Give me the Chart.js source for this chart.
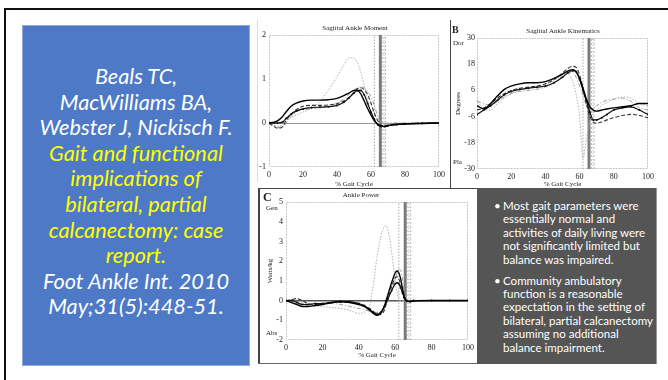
<!DOCTYPE html>
<html><head><meta charset="utf-8">
<script src="https://cdn.jsdelivr.net/npm/chart.js@4.4.1/dist/chart.umd.min.js"></script>
<style>
html,body{margin:0;padding:0;background:#fff;width:668px;height:380px;overflow:hidden;position:relative}
.abs{position:absolute}
.serif{font-family:"Liberation Serif",serif;color:#222;white-space:nowrap}
#topline{left:4px;top:8px;width:664px;height:2px;background:#111}
#leftline{left:4px;top:8px;width:2px;height:372px;background:#111}
#cite{left:22px;top:25px;width:226px;height:339px;background:#4D79C6;border:1px solid #8EA9DB;font-family:Lato,sans-serif;font-style:italic;color:#fff;text-align:center}
#cite .ln{position:absolute;left:0;width:226px;height:26px;line-height:26px;white-space:nowrap}
#cite .y{color:#FFFF00}
#notes{left:477px;top:188px;width:179px;height:176px;background:#555;border-right:1px solid #999;font-family:Lato,sans-serif;color:#fff}
#notes .ln{position:absolute;left:26px;white-space:nowrap;height:14px;line-height:14px}
#notes .bul{position:absolute;left:17px;height:14px;line-height:14px}
canvas{position:absolute}
</style></head>
<body>
<div id="topline" class="abs"></div>
<div id="leftline" class="abs"></div>
<div id="cite" class="abs"></div>

<div class="abs" style="left:257px;top:20px;width:1px;height:162px;background:#ddd"></div>
<div class="abs" style="left:450px;top:20px;width:1px;height:169px;background:#444"></div>
<div class="abs" style="left:258px;top:188px;width:219px;height:1px;background:#444"></div>
<div class="abs" style="left:258px;top:188px;width:2px;height:176px;background:#444"></div>
<div class="abs" style="left:258px;top:363px;width:219px;height:1px;background:#666"></div>

<canvas id="cA" width="190" height="170" style="left:258px;top:20px"></canvas>
<canvas id="cB" width="216" height="170" style="left:450px;top:20px"></canvas>
<canvas id="cC" width="219" height="176" style="left:258px;top:188px"></canvas>

<div class="abs serif" style="left:305px;top:24px;width:100px;text-align:center;font-size:7px">Sagittal Ankle Moment</div>
<div class="abs serif" style="left:503px;top:27px;width:120px;text-align:center;font-size:7px">Sagittal Ankle Kinematics</div>
<div class="abs serif" style="left:311px;top:191px;width:100px;text-align:center;font-size:7px">Ankle Power</div>
<div class="abs serif" style="left:452px;top:24px;font-size:10px;font-weight:bold">B</div>
<div class="abs serif" style="left:263px;top:190px;font-size:12px;font-weight:bold">C</div>
<div class="abs serif" style="left:453px;top:39px;font-size:7px">Dor</div>
<div class="abs serif" style="left:453px;top:158px;font-size:7px">Pla</div>
<div class="abs serif" style="left:266px;top:204px;font-size:7px">Gen</div>
<div class="abs serif" style="left:266px;top:329px;font-size:7px">Abs</div>

<div id="notes" class="abs"></div>

<script>
// ---------- text ----------
const citeLines = [
  ["Beals TC,", false], ["MacWilliams BA,", false], ["Webster J, Nickisch F.", false],
  ["Gait and functional", true], ["implications of", true], ["bilateral, partial", true],
  ["calcanectomy: case", true], ["report.", true],
  ["Foot Ankle Int. 2010", false], ["May;31(5):448-51.", false]
];
const noteParas = [
  ["Most gait parameters were", "essentially normal and", "activities of daily living were", "not significantly limited but", "balance was impaired."],
  ["Community ambulatory", "function is a reasonable", "expectation in the setting of", "bilateral, partial calcanectomy", "assuming no additional", "balance impairment."]
];

// ---------- data: Sagittal Ankle Moment ----------
const momentX      = [0,3,5,8,10,13,16,20,25,30,35,40,44,47,50,52,54,56,58,60,62,64,66,68,70,75,80,90,100];
const momentNormal = [0,-0.05,-0.08,-0.04,0.05,0.12,0.18,0.25,0.33,0.5,0.75,1.05,1.32,1.48,1.47,1.38,1.15,0.85,0.5,0.2,0.02,0,0,0,0,0,0,0,0];
const momentRight  = [0,0.02,0.05,0.15,0.25,0.38,0.45,0.5,0.52,0.52,0.53,0.56,0.62,0.68,0.74,0.74,0.66,0.5,0.33,0.18,0.05,-0.03,-0.07,-0.08,-0.06,-0.03,-0.02,-0.01,0];
const momentLeft   = [0,0,0,0.02,0.1,0.2,0.27,0.32,0.35,0.36,0.37,0.4,0.47,0.57,0.68,0.74,0.74,0.64,0.45,0.25,0.08,-0.04,-0.08,-0.08,-0.06,-0.04,-0.02,-0.01,0];
const momentDash   = [0,-0.08,-0.12,-0.08,0.05,0.2,0.3,0.38,0.4,0.4,0.41,0.44,0.5,0.58,0.7,0.78,0.8,0.76,0.65,0.45,0.22,0.05,-0.05,-0.06,-0.05,-0.03,-0.02,0,0];
const momentGrey   = [0,-0.05,-0.1,-0.1,0,0.15,0.25,0.3,0.33,0.35,0.38,0.45,0.55,0.65,0.75,0.8,0.82,0.8,0.72,0.6,0.4,0.15,0,-0.03,-0.02,0,0,0,0];
const momentTicks  = [-1, 2, 1];

// ---------- data: Sagittal Ankle Kinematics ----------
const kinX      = [0,4,8,12,16,20,25,30,35,40,45,50,53,56,58,60,62,64,66,68,70,73,76,80,85,90,95,100];
const kinNormal = [2,-3,-3,0,2.5,4.5,6,7,7.5,8.5,10.5,13,13.5,10,4,-6,-25,-16,-8,-4,-3,-1,0.5,2,3,2.5,0,-1];
const kinRight  = [-1,-2.5,0,3.5,6.5,8,9,9.5,9.5,10,11.5,13.5,14.8,15.5,14.5,11.5,7,2,-1.5,-3,-3.5,-3,-2.5,-2,-1.5,-1,0,0];
const kinLeft   = [-5,-3,-1,1.5,4,5.5,6.5,7,7.5,8,9.5,12,14,15,14.5,11,6,1,-4,-7.5,-7.5,-6.5,-5,-3,-2,-1.5,-3,-5];
const kinDash   = [-3,-2,0,2.5,4.5,6,7,7.5,8,9,11,14,16,17,16.5,13,7,0,-6,-8.5,-9,-8.5,-7.5,-6.5,-5.5,-5,-5.5,-6.5];
const kinGrey   = [1,0,-1,1,3,4.5,5.5,6,6.5,7.5,9.5,12.5,14,14,12,8,4,-1,-3,-2,-1,0.5,1.5,2,2.5,1,-2,-3];
const kinTicks  = [-30, 30, 12];

// ---------- data: Ankle Power ----------
const powX      = [0,3,6,9,12,16,20,25,30,35,40,43,46,48,50,52,54,55,56,58,60,61,62,63,64,65,66,68,70,80,90,100];
const powNormal = [0,0.05,0.1,-0.1,-0.2,-0.25,-0.3,-0.35,-0.4,-0.5,-0.65,-0.6,-0.2,0.8,2.2,3.2,3.75,3.8,3.6,2.5,1.0,0.4,0.05,0,0,0,0,0,0,0,0,0];
const powRight  = [0,-0.1,-0.2,-0.3,-0.3,-0.25,-0.2,-0.1,-0.05,-0.1,-0.2,-0.3,-0.5,-0.65,-0.75,-0.65,-0.3,0,0.3,0.9,1.4,1.5,1.4,1.1,0.6,0.2,0,-0.05,-0.02,0,0,0];
const powLeft   = [0,0,-0.1,-0.2,-0.2,-0.15,-0.15,-0.1,-0.05,-0.05,-0.15,-0.25,-0.45,-0.6,-0.7,-0.6,-0.3,-0.1,0.1,0.5,0.85,0.9,0.85,0.65,0.4,0.15,0,-0.05,0,0,0,0];
const powDash   = [0,0.05,0.1,0,-0.15,-0.2,-0.15,-0.1,-0.1,-0.1,-0.2,-0.3,-0.4,-0.55,-0.7,-0.7,-0.5,-0.2,0.1,0.7,1.15,1.2,1.1,0.8,0.4,0.1,-0.05,-0.05,0,0,0,0];
const powGrey   = [0,0,-0.05,-0.15,-0.25,-0.25,-0.2,-0.15,-0.2,-0.3,-0.4,-0.45,-0.55,-0.6,-0.6,-0.55,-0.4,-0.2,0,0.5,1.1,1.4,1.6,1.55,1.1,0.5,0.1,0,0,0,0,0];
const powTicks  = [-2, 5, 1];

// toe-off reference lines (% gait cycle)
const refDotted = 62;
const refSolid  = 65.5;
const refBand   = [67, 68.5];

// ---------- build text ----------
(function(){
  const cite = document.getElementById('cite');
  const mc = document.createElement('canvas').getContext('2d');
  mc.font = 'italic 100px Lato';
  const w = mc.measureText('Webster J, Nickisch F.').width;
  const fs = 194 / w * 100;
  citeLines.forEach((l, i) => {
    const d = document.createElement('div');
    d.className = 'ln' + (l[1] ? ' y' : '');
    d.style.top = (37 + i * 25.6) + 'px';
    d.style.fontSize = fs + 'px';
    d.textContent = l[0];
    cite.appendChild(d);
  });
  const notes = document.getElementById('notes');
  mc.font = '100px Lato';
  const w2 = mc.measureText('activities of daily living were').width;
  const fs2 = 143 / w2 * 100;
  let top = 11;
  noteParas.forEach(p => {
    const b = document.createElement('div');
    b.className = 'bul'; b.textContent = '•'; b.style.top = top + 'px'; b.style.fontSize = fs2 + 'px';
    notes.appendChild(b);
    p.forEach(t => {
      const d = document.createElement('div');
      d.className = 'ln'; d.style.top = top + 'px'; d.style.fontSize = fs2 + 'px';
      d.textContent = t;
      notes.appendChild(d);
      top += 13.4;
    });
    top += 7.5;
  });
})();

// ---------- charts ----------
const pts = (xs, ys) => xs.map((x, i) => ({x, y: ys[i]}));
const vline = (x, lo, hi, color, width, dash) => ({
  data: [{x, y: lo}, {x, y: hi}], borderColor: color, borderWidth: width, borderDash: dash,
  pointRadius: 0, tension: 0, order: 10
});
const tickFont = {family: 'Liberation Serif', size: 8};
const titleFont = {family: 'Liberation Serif', size: 7};

const framePlugin = {
  id: 'frame',
  beforeDatasetsDraw(chart) {
    const a = chart.chartArea, c = chart.ctx;
    c.save(); c.strokeStyle = '#c4c4c4'; c.lineWidth = 1; c.setLineDash([2, 1]);
    c.strokeRect(a.left + 0.5, a.top + 0.5, a.right - a.left - 1, a.bottom - a.top - 1);
    c.restore();
  }
};

function series(xs, normal, right, left, dash, grey) {
  return [
    {data: pts(xs, normal), borderColor: '#b0b0b0', borderWidth: 1, borderDash: [1.5, 1.5], pointRadius: 0, cubicInterpolationMode: 'monotone', order: 5},
    {data: pts(xs, grey), borderColor: '#9a9a9a', borderWidth: 1, borderDash: [4, 2, 1, 2], pointRadius: 0, cubicInterpolationMode: 'monotone', order: 4},
    {data: pts(xs, dash), borderColor: '#333', borderWidth: 1.1, borderDash: [4, 2], pointRadius: 0, cubicInterpolationMode: 'monotone', order: 3},
    {data: pts(xs, left), borderColor: '#111', borderWidth: 1.2, pointRadius: 1, pointBackgroundColor: '#111', pointBorderWidth: 0, cubicInterpolationMode: 'monotone', order: 2},
    {data: pts(xs, right), borderColor: '#000', borderWidth: 1.4, pointRadius: 0, cubicInterpolationMode: 'monotone', order: 1}
  ];
}
function refs(lo, hi) {
  return [
    vline(refDotted, lo, hi, '#aaa', 1, [1.5, 1.5]),
    vline(refSolid, lo, hi, '#7a7a7a', 3, []),
    vline(refBand[0], lo, hi, '#bbb', 1, [2, 2]),
    vline(refBand[1], lo, hi, '#bbb', 1, [2, 2]),
    vline((refBand[0] + refBand[1]) / 2, lo, hi, 'rgba(190,190,190,0.6)', 2, [1, 2])
  ];
}

function makeChart(id, ticksCfg, data, geo) {
  const [lo, hi, step] = ticksCfg;
  new Chart(document.getElementById(id), {
    type: 'line',
    data: {datasets: refs(lo, hi).concat(data)},
    options: {
      responsive: false, animation: false, devicePixelRatio: 1,
      layout: {padding: {left: 0, right: geo.pr, top: geo.pt, bottom: 0}},
      plugins: {legend: {display: false}, tooltip: {enabled: false}},
      scales: {
        x: {
          type: 'linear', min: 0, max: 100,
          ticks: {stepSize: 20, font: tickFont, color: '#222', padding: geo.xtp, maxRotation: 0},
          grid: {display: false, drawTicks: false},
          border: {display: false},
          title: {display: true, text: '% Gait Cycle', font: titleFont, color: '#222', padding: {top: 0, bottom: geo.xtt}},
          afterFit: s => { s.height = geo.xh; }
        },
        y: {
          type: 'linear', min: lo, max: hi,
          ticks: {stepSize: step, font: tickFont, color: '#222', padding: geo.ytp},
          grid: {drawTicks: false, color: c => c.tick && c.tick.value === 0 ? geo.zc : 'rgba(0,0,0,0)', lineWidth: geo.zw},
          border: {display: false},
          title: {display: !!geo.yt, text: geo.yt || '', font: titleFont, color: '#222', padding: {top: geo.ytt, bottom: 0}},
          afterFit: s => { s.width = geo.yw; }
        }
      }
    },
    plugins: [framePlugin]
  });
}

makeChart('cA', momentTicks, series(momentX, momentNormal, momentRight, momentLeft, momentDash, momentGrey),
  {pr: 6, pt: 15, xh: 23, yw: 11, xtp: 3, xtt: 2, ytp: 3, zc: '#999', zw: 1});
makeChart('cB', kinTicks, series(kinX, kinNormal, kinRight, kinLeft, kinDash, kinGrey),
  {pr: 18, pt: 18, xh: 21, yw: 27, xtp: 3, xtt: 2, ytp: 2, zc: '#999', zw: 1, yt: 'Degrees', ytt: 4});
makeChart('cC', powTicks, series(powX, powNormal, powRight, powLeft, powDash, powGrey),
  {pr: 8, pt: 14, xh: 24, yw: 28, xtp: 3, xtt: 5, ytp: 3, zc: '#555', zw: 1.5, yt: 'Watts/kg', ytt: 8});
</script>
</body></html>
